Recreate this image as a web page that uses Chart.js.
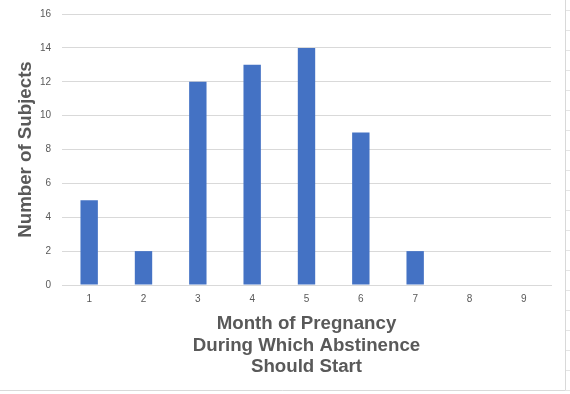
<!DOCTYPE html>
<html>
<head>
<meta charset="utf-8">
<script src="https://cdn.jsdelivr.net/npm/chart.js@4/dist/chart.umd.min.js"></script>
<style>
  html, body { margin: 0; padding: 0; background: #fff; }
  #wrap { width: 570px; height: 394px; position: relative; }
</style>
</head>
<body>
<div id="wrap"><canvas id="chart" width="570" height="394"></canvas></div>
<script>
// month of pregnancy categories and counts
var months = ['1', '2', '3', '4', '5', '6', '7', '8', '9'];
var subjects = [5, 2, 12, 13, 14, 9, 2, 0, 0];
var yTicks = [0, 2, 4, 6, 8, 10, 12, 14, 16];

// excel-ish frame around the chart area
var frame = {
	id: 'frame',
	beforeDraw: function(chart) {
		var ctx = chart.ctx;
		ctx.save();
		ctx.strokeStyle = '#d9d9d9';
		ctx.lineWidth = 1;
		ctx.beginPath();
		ctx.moveTo(0, 390.5);
		ctx.lineTo(565.5, 390.5);
		ctx.lineTo(565.5, 0);
		ctx.stroke();
		ctx.strokeStyle = '#e4e4e4';
		for (var y = 10; y < 394; y += 20) {
			ctx.beginPath();
			ctx.moveTo(566, y + 0.5);
			ctx.lineTo(570, y + 0.5);
			ctx.stroke();
		}
		ctx.restore();
	}
};

new Chart(document.getElementById('chart').getContext('2d'), {
	type: 'bar',
	data: {
		labels: months,
		datasets: [{
			data: subjects,
			backgroundColor: '#4472c4',
			barPercentage: 0.32,
			categoryPercentage: 1
		}]
	},
	plugins: [frame],
	options: {
		responsive: false,
		animation: false,
		layout: { padding: { left: 0, top: 14, right: 19, bottom: 16 } },
		plugins: { legend: { display: false }, tooltip: { enabled: false } },
		scales: {
			x: {
				afterFit: function(axis) { axis.height = 93; },
				grid: { display: false, drawTicks: false },
				border: { color: '#d9d9d9' },
				ticks: { color: '#595959', font: { family: 'Liberation Sans', size: 10 }, padding: 8 },
				title: {
					display: true,
					text: ['Month of Pregnancy', 'During Which Abstinence', 'Should Start'],
					color: '#595959',
					font: { family: 'Liberation Sans', size: 18.7, weight: 'bold', lineHeight: 1.15 },
					padding: { top: 8, bottom: 0 }
				}
			},
			y: {
				min: 0,
				max: 16,
				afterBuildTicks: function(axis) {
					axis.ticks = yTicks.map(function(v) { return { value: v }; });
				},
				afterFit: function(axis) {
					axis.width = 62;
					axis.paddingTop = 0;
					axis.paddingBottom = 0;
				},
				grid: { color: '#d9d9d9', drawTicks: false },
				border: { display: false },
				ticks: { color: '#595959', font: { family: 'Liberation Sans', size: 10 }, padding: 11 },
				title: {
					display: true,
					text: 'Number of Subjects',
					color: '#595959',
					font: { family: 'Liberation Sans', size: 18.7, weight: 'bold' },
					padding: { top: 15, bottom: 0 }
				}
			}
		}
	}
});
</script>
</body>
</html>
